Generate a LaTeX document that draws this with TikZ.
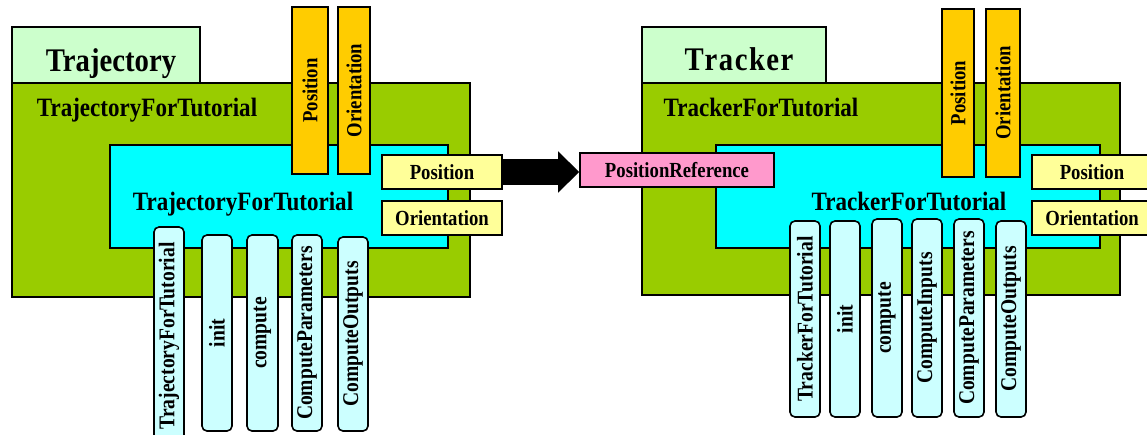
\documentclass[tikz,border=0pt]{standalone}
\usepackage{fontspec}
\setmainfont{Liberation Serif}[FakeStretch=0.87]
\usetikzlibrary{arrows.meta}
\definecolor{tabc}{HTML}{CCFFCC}
\definecolor{outerc}{HTML}{99CC00}
\definecolor{innerc}{HTML}{00FFFF}
\definecolor{inpc}{HTML}{FFCC00}
\definecolor{outc}{HTML}{FFFF99}
\definecolor{refc}{HTML}{FF99CC}
\definecolor{pillc}{HTML}{CCFFFF}
\tikzset{
  box/.style={draw=black,line width=1.6pt,inner sep=0pt},
  title/.style={font=\fontsize{33}{36}\selectfont\bfseries,inner sep=0pt},
  lbl/.style={font=\fontsize{26.5}{28}\selectfont\bfseries,inner sep=0pt},
  port/.style={box,font=\fontsize{21.5}{24}\selectfont\bfseries},
  vport/.style={port,fill=inpc},
  hport/.style={port,fill=outc},
  pill/.style={box,fill=pillc,rounded corners=5pt,font=\fontsize{22.5}{24}\selectfont\bfseries},
}
% horizontal box from (x1,y1) to (x2,y2)
\newcommand\rbox[7][]{\node[box,#1,minimum width={#5pt-#3pt},minimum height={#6pt-#4pt}] (#2) at ({(#3+#5)/2},{(#4+#6)/2}) {#7};}
% upright bar with text reading upwards
\newcommand\vbar[7][]{\node[box,#1,rotate=90,minimum width={#6pt-#4pt},minimum height={#5pt-#3pt}] (#2) at ({(#3+#5)/2},{(#4+#6)/2}) {#7};}
\begin{document}
\begin{tikzpicture}[x=1pt,y=-1pt]
\path[use as bounding box] (0,0) rectangle (1147,434);
\clip (0,0) rectangle (1147,434);

% ---- Trajectory component ----
\rbox[fill=tabc]{ltab}{12}{27}{200}{83}{}
\rbox[fill=outerc]{lout}{12}{83}{470}{297}{}
\rbox[fill=innerc]{lin}{110}{145}{448}{248}{}
\node[title,anchor=base] (ltitle) at (111,71) {Trajectory};
\node[lbl,anchor=base] (loutl) at (147,116) {TrajectoryForTutorial};
\node[lbl,anchor=base] (linl) at (243,210) {TrajectoryForTutorial};
\vbar[vport]{lpin}{292}{7}{328}{174}{Position}
\vbar[vport]{loin}{338}{7}{370}{174}{Orientation}
\rbox[hport]{lpout}{382}{155}{502}{189}{Position}
\rbox[hport]{loout}{382}{201}{502}{235}{Orientation}
\vbar[pill]{lm1}{154}{227}{184}{445}{TrajectoryForTutorial}
\vbar[pill]{lm2}{202}{235}{232}{431}{init}
\vbar[pill]{lm3}{247}{235}{278}{431}{compute}
\vbar[pill]{lm4}{292}{235}{322}{431}{ComputeParameters}
\vbar[pill]{lm5}{338}{237}{368}{431}{ComputeOutputs}

% ---- Tracker component ----
\rbox[fill=tabc]{rtab}{642}{27}{826}{83}{}
\rbox[fill=outerc]{rout}{642}{83}{1120}{295}{}
\rbox[fill=innerc]{rin}{716}{145}{1100}{248}{}
\node[title,anchor=base] (rtitle) at (739,70) {T\kern1pt r\kern1.5pt a\kern1.5pt c\kern1.5pt k\kern1.5pt e\kern1.5pt r};
\node[lbl,anchor=base] (routl) at (761,116) {TrackerForTutorial};
\node[lbl,anchor=base] (rinl) at (909,210) {TrackerForTutorial};
\rbox[port,fill=refc]{rref}{580}{153}{774}{187}{PositionReference}
\vbar[vport]{rpin}{942}{9}{974}{177}{Position}
\vbar[vport]{roin}{986}{9}{1020}{177}{Orientation}
\rbox[hport]{rpout}{1032}{155}{1152}{189}{Position}
\rbox[hport]{roout}{1032}{201}{1152}{235}{Orientation}
\vbar[pill]{rm1}{790}{221}{820}{417}{TrackerForTutorial}
\vbar[pill]{rm2}{830}{221}{860}{417}{init}
\vbar[pill]{rm3}{872}{219}{902}{417}{compute}
\vbar[pill]{rm4}{912}{219}{942}{417}{ComputeInputs}
\vbar[pill]{rm5}{954}{219}{984}{417}{ComputeParameters}
\vbar[pill]{rm6}{996}{221}{1026}{417}{ComputeOutputs}

% ---- data link ----
\draw[line width=26pt,-{Triangle[length=21pt,width=40pt]}] (lpout.east) -- (lpout.east -| rref.west);
\end{tikzpicture}
\end{document}
